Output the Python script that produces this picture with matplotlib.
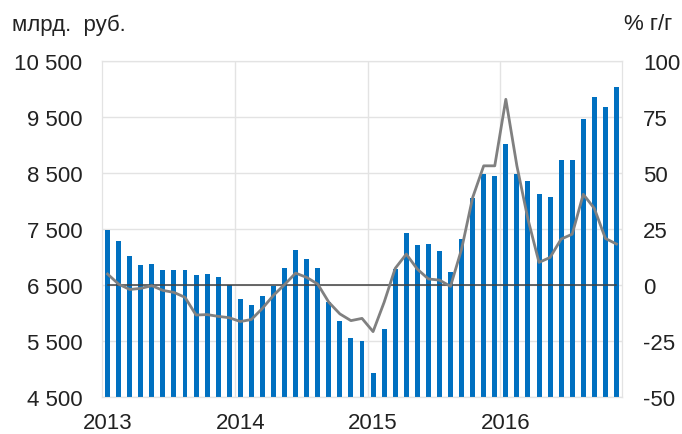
import numpy as np
import matplotlib
matplotlib.use("Agg")
from matplotlib import pyplot as plt

# monthly values, Jan 2013 - Nov 2016
volume = [7476, 7286, 7012, 6863, 6869, 6774, 6762, 6762, 6685, 6696, 6637, 6506,
          6256, 6137, 6298, 6488, 6804, 7119, 6958, 6804, 6196, 5851, 5554, 5500,
          4935, 5708, 6780, 7429, 7220, 7232, 7101, 6732, 7315, 8054, 8488, 8452,
          9018, 8488, 8363, 8125, 8077, 8726, 8726, 9458, 9857, 9679, 10036]
growth = [4.9, 0.4, -2.0, -1.5, -0.3, -2.4, -3.3, -5.5, -13.4, -13.2, -14.0, -14.6,
          -16.3, -15.4, -10.4, -4.6, 0.2, 5.3, 3.4, 0.4, -7.7, -12.9, -15.9, -14.9,
          -20.8, -7.7, 7.4, 13.8, 7.1, 2.7, 2.2, -0.6, 16.0, 39.0, 53.2, 53.2,
          82.9, 53.2, 29.4, 10.1, 12.3, 20.5, 22.7, 40.5, 34.2, 20.8, 18.3]
year_labels = ["2013", "2014", "2015", "2016"]
left_ticks = [4500, 5500, 6500, 7500, 8500, 9500, 10500]
right_ticks = [-50, -25, 0, 25, 50, 75, 100]

plt.rcParams["font.family"] = ["Liberation Sans", "DejaVu Sans"]
plt.rcParams["font.size"] = 16
plt.rcParams["axes.unicode_minus"] = False

fig = plt.figure(figsize=(6.82, 4.35), dpi=100)
ax = fig.add_axes([0.1496, 0.085, 0.7624, 0.7725])
ax2 = ax.twinx()

x = np.arange(len(volume))
ax.bar(x, volume, width=0.45, color="#0070C0", zorder=3)
ax.set_ylim(4500, 10500)
ax.set_xlim(-0.5, len(volume) - 0.5)
ax.set_yticks(left_ticks)
ax.set_yticklabels([f"{v:,}".replace(",", " ") for v in left_ticks])
ax.set_xticks([0, 12, 24, 36])
ax.set_xticklabels(year_labels)
ax.set_xticks([11.5, 23.5, 35.5], minor=True)
ax.grid(axis="y", color="#e3e3e3", lw=1, zorder=0)
ax.grid(axis="x", which="minor", color="#e3e3e3", lw=1, zorder=0)
ax.tick_params(axis="both", which="both", length=0, colors="#222222")
ax.tick_params(axis="y", pad=14)
ax.tick_params(axis="x", pad=11)

ax2.plot(x, [0] * len(x), color="#404040", lw=1.1, zorder=4)
ax2.plot(x, growth, color="#808080", lw=2, zorder=5)
ax2.set_ylim(-50, 100)
ax2.set_yticks(right_ticks)
ax2.tick_params(axis="y", length=0, pad=15, colors="#222222")

for a in (ax, ax2):
    for s in a.spines.values():
        s.set_color("#e3e3e3")

fig.text(12 / 682, 1 - 25 / 435, "млрд.  руб.", fontsize=16, color="#222222", va="center")
fig.text(672 / 682, 1 - 25 / 435, "% г/г", fontsize=16, color="#222222", va="center", ha="right")

plt.savefig("out.png", dpi=100)
